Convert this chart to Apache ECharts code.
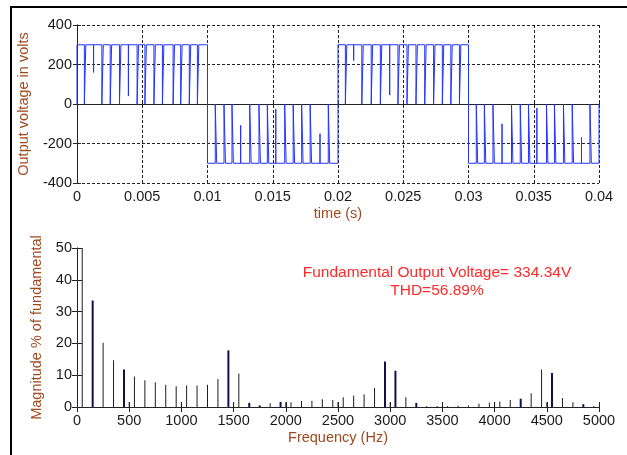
<!DOCTYPE html>
<html>
<head>
<meta charset="utf-8">
<script src="https://cdn.jsdelivr.net/npm/echarts@6/dist/echarts.min.js"></script>
<style>
html,body{margin:0;padding:0;background:#fff;}
#chart{width:627px;height:455px;}
</style>
</head>
<body>
<div id="chart"></div>
<script>
// ---------------- DATA ----------------
// Top plot: PWM output voltage. Half-cycles of 10 ms, DC level 300 V.
const dcLevel = 300;                       // volts
const halfStartsMs = [0, 10, 20, 30];
const halfSigns = [1, -1, 1, -1];
// Notch times (ms) for each half-cycle
const notchesMs = [
  [0.62, 1.27, 1.96, 2.60, 3.31, 3.94, 4.66, 5.26, 5.95, 6.60, 7.42, 8.00, 8.66, 9.28],
  [10.65, 11.32, 11.93, 12.54, 13.29, 14.00, 14.64, 15.23, 15.97, 16.62, 17.27, 17.92, 18.62, 19.31],
  [20.62, 21.20, 21.88, 22.60, 23.30, 23.96, 24.65, 25.34, 26.03, 26.70, 27.38, 28.05, 28.70, 29.36],
  [30.65, 31.27, 31.93, 32.57, 33.35, 34.02, 34.65, 35.24, 36.03, 36.64, 37.33, 38.00, 38.66, 39.36]
];
// Level (|V|) reached inside each notch: 0 = full notch, otherwise a partial spike
const notchLevels = [
  [0, 160, 0, 0, 0, 40, 0, 0, 0, 0, 0, 0, 0, 0],
  [0, 0, 0, 108, 0, 0, 0, 25, 0, 0, 0, 0, 150, 0],
  [0, 220, 0, 0, 0, 45, 0, 0, 0, 0, 0, 0, 0, 0],
  [0, 0, 0, 100, 0, 0, 0, 20, 0, 0, 0, 0, 170, 0]
];
const notchWidthMs = 0.11;
const timeTicks = [0, 0.005, 0.01, 0.015, 0.02, 0.025, 0.03, 0.035, 0.04];
const voltTicks = [-400, -200, 0, 200, 400];

// Bottom plot: harmonic spectrum (% of fundamental)
const freqsHz = [50, 150, 250, 350, 450, 500, 550, 650, 750, 850, 950, 1000, 1050, 1150, 1250, 1350,
  1450, 1500, 1550, 1650, 1750, 1850, 1950, 2000, 2050, 2150, 2250, 2350, 2450, 2500, 2550, 2650,
  2750, 2850, 2950, 3000, 3050, 3150, 3250, 3350, 3450, 3500, 3550, 3650, 3750, 3850, 3950, 4000,
  4050, 4150, 4250, 4350, 4450, 4500, 4550, 4650, 4750, 4850, 4950];
const magnitudes = [100, 33.5, 20.2, 14.7, 11.8, 1.6, 9.6, 8.4, 7.8, 7.0, 6.5, 1.6, 6.8, 6.8, 7.0, 8.8,
  17.8, 1.5, 10.5, 1.3, 0.5, 1.2, 1.6, 1.5, 1.5, 1.9, 2.0, 2.4, 2.2, 1.5, 3.1, 3.6,
  4.0, 6.0, 14.3, 1.5, 11.4, 3.1, 1.3, 0.3, 0.3, 0.4, 0.3, 0.4, 0.5, 1.0, 1.3, 1.5,
  1.7, 2.2, 2.6, 4.3, 11.8, 1.5, 10.7, 2.8, 1.5, 0.9, 0.3];
const freqTicks = [0, 500, 1000, 1500, 2000, 2500, 3000, 3500, 4000, 4500, 5000];
const magTicks = [0, 10, 20, 30, 40, 50];
const fundamentalText = 'Fundamental Output Voltage= 334.34V';
const thdText = 'THD=56.89%';

// ---------------- STYLE ----------------
// bars that render heavier (navy) in the reference
const heavyBars = new Set([150, 450, 1450, 1650, 1750, 1950, 2950, 3050, 3250, 4250, 4550, 4850]);
const FONT = '"Liberation Sans", Arial, sans-serif';
const BROWN = '#a0481e';
const TICKC = '#1a1a1a';

// ---------------- BUILD ----------------
const wave = [];
for (let h = 0; h < halfStartsMs.length; h++) {
  const s = halfSigns[h], t0 = halfStartsMs[h], hi = s * dcLevel;
  wave.push([t0 / 1000, 0], [t0 / 1000, hi]);
  notchesMs[h].forEach((tn, i) => {
    const lv = notchLevels[h][i];
    if (lv === 0) {
      const a = (tn - notchWidthMs / 2) / 1000, b = (tn + notchWidthMs / 2) / 1000;
      wave.push([a, hi], [a, 0], [b, 0], [b, hi]);
    } else {
      wave.push([tn / 1000, hi], [tn / 1000, s * lv], [tn / 1000, hi]);
    }
  });
  wave.push([(t0 + 10) / 1000, hi], [(t0 + 10) / 1000, 0]);
}
const spec = freqsHz.map((f, i) => [f, magnitudes[i], heavyBars.has(f) ? 1 : 0]);

const axisLabel = {color: TICKC, fontFamily: FONT, fontSize: 14.5};
const lineBox = {show: true, lineStyle: {color: '#222', width: 1}};
const dashed = {show: true, lineStyle: {color: '#222', type: [3, 2], width: 1}};
const fmtT = v => String(parseFloat(v.toFixed(4)));
const fmtN = v => String(v);

const chart = echarts.init(document.getElementById('chart'), null, {renderer: 'canvas'});
chart.setOption({
  animation: false,
  backgroundColor: '#fff',
  grid: [
    {left: 77, right: 28, top: 25, height: 158, show: false},
    {left: 77, right: 28, top: 248, height: 159, show: false}
  ],
  xAxis: [
    {gridIndex: 0, type: 'value', min: 0, max: 0.04, interval: 0.005,
     axisLine: lineBox, axisTick: {show: true, inside: true, length: 4, lineStyle: {color: '#222'}},
     splitLine: dashed, axisLabel: Object.assign({margin: 6, formatter: fmtT}, axisLabel),
     name: 'time (s)', nameLocation: 'middle', nameGap: 23,
     nameTextStyle: {color: BROWN, fontFamily: FONT, fontSize: 14.5}},
    {gridIndex: 0, type: 'value', position: 'top', min: 0, max: 0.04, interval: 0.005,
     axisLine: lineBox, axisTick: {show: true, inside: true, length: 4, lineStyle: {color: '#222'}},
     splitLine: {show: false}, axisLabel: {show: false}},
    {gridIndex: 1, type: 'value', min: 0, max: 5000, interval: 500,
     axisLine: lineBox, axisTick: {show: true, inside: true, length: 5, lineStyle: {color: '#222'}},
     splitLine: {show: false}, axisLabel: Object.assign({margin: 6, formatter: fmtN}, axisLabel),
     name: 'Frequency (Hz)', nameLocation: 'middle', nameGap: 23,
     nameTextStyle: {color: BROWN, fontFamily: FONT, fontSize: 14.5}},
    {gridIndex: 1, type: 'value', position: 'top', min: 0, max: 5000, interval: 500,
     axisLine: lineBox, axisTick: {show: true, inside: true, length: 5, lineStyle: {color: '#222'}},
     splitLine: {show: false}, axisLabel: {show: false}}
  ],
  yAxis: [
    {gridIndex: 0, type: 'value', min: -400, max: 400, interval: 200,
     axisLine: lineBox, axisTick: {show: true, inside: true, length: 4, lineStyle: {color: '#222'}},
     splitLine: dashed, axisLabel: Object.assign({margin: 5, formatter: fmtN}, axisLabel),
     name: 'Output voltage in volts', nameLocation: 'middle', nameGap: 46, nameRotate: 90,
     nameTextStyle: {color: BROWN, fontFamily: FONT, fontSize: 14.5}},
    {gridIndex: 0, type: 'value', position: 'right', min: -400, max: 400, interval: 200,
     axisLine: lineBox, axisTick: {show: true, inside: true, length: 4, lineStyle: {color: '#222'}},
     splitLine: {show: false}, axisLabel: {show: false}},
    {gridIndex: 1, type: 'value', min: 0, max: 50, interval: 10,
     axisLine: lineBox, axisTick: {show: true, inside: true, length: 5, lineStyle: {color: '#222'}},
     splitLine: {show: false}, axisLabel: Object.assign({margin: 5, formatter: fmtN}, axisLabel),
     name: 'Magnitude % of fundamental', nameLocation: 'middle', nameGap: 33, nameRotate: 90,
     nameTextStyle: {color: BROWN, fontFamily: FONT, fontSize: 14.5}},
    {gridIndex: 1, type: 'value', position: 'right', min: 0, max: 50, interval: 10,
     axisLine: lineBox, axisTick: {show: true, inside: true, length: 5, lineStyle: {color: '#222'}},
     splitLine: {show: false}, axisLabel: {show: false}}
  ],
  series: [
    {type: 'line', xAxisIndex: 0, yAxisIndex: 0, data: wave, showSymbol: false, symbol: 'none',
     lineStyle: {color: '#2233ff', width: 1}, silent: true},
    {type: 'custom', xAxisIndex: 2, yAxisIndex: 2, data: spec, clip: true, silent: true,
     renderItem: function (params, api) {
       const f = api.value(0), v = api.value(1), heavy = api.value(2) === 1;
       const p0 = api.coord([f, 0]);
       const p1 = api.coord([f, v]);
       const cs = params.coordSys;
       const top = Math.max(p1[1], cs.y);
       const w = heavy ? 2 : 1;
       return {type: 'rect',
         shape: {x: p0[0] - w / 2, y: top, width: w, height: p0[1] - top},
         style: {fill: heavy ? '#101050' : '#1e1e1e'}};
     },
     encode: {x: 0, y: 1}}
  ],
  graphic: [
    {type: 'line', shape: {x1: 10, y1: 7, x2: 627, y2: 7}, style: {stroke: '#000', lineWidth: 2}},
    {type: 'line', shape: {x1: 11, y1: 6, x2: 11, y2: 455}, style: {stroke: '#000', lineWidth: 2}},
    {type: 'text', x: 437, y: 273,
     style: {text: fundamentalText, x: 0, y: 0, align: 'center', verticalAlign: 'middle',
             fill: '#ff2a2a', font: '15.5px ' + FONT}},
    {type: 'text', x: 437, y: 291,
     style: {text: thdText, x: 0, y: 0, align: 'center', verticalAlign: 'middle',
             fill: '#ff2a2a', font: '15.5px ' + FONT}}
  ]
});
</script>
</body>
</html>
